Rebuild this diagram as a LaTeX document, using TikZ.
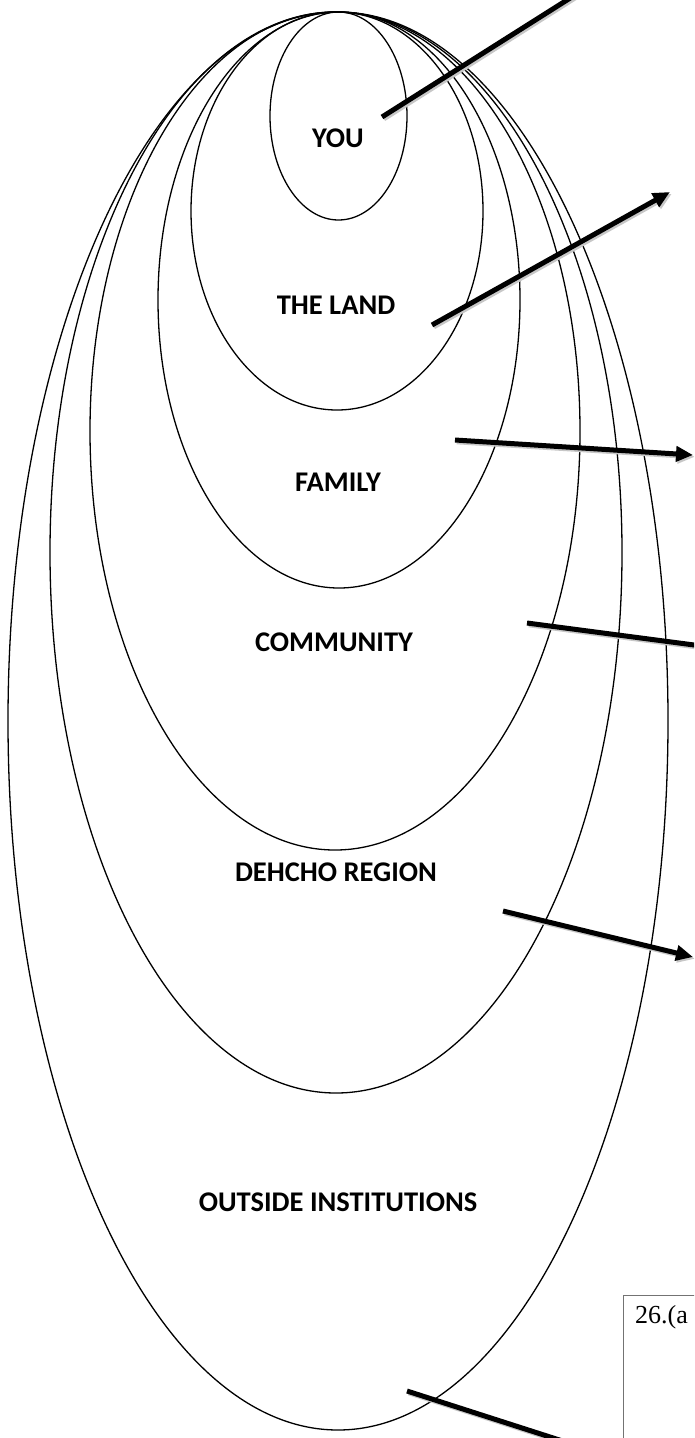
\documentclass[tikz,border=0pt]{standalone}
\usepackage{fontspec}
\setmainfont{Carlito}
\newfontfamily\boxserif{Liberation Serif}
\usetikzlibrary{shapes.geometric,arrows.meta}
\begin{document}
\begin{tikzpicture}[x=1pt,y=-1pt,
  ring/.style={draw=black, line width=1.3pt, ellipse, inner sep=0pt},
  lbl/.style={font=\bfseries\fontsize{28.5}{34}\selectfont, inner sep=0pt},
  ptr/.style={line width=5pt, draw=black},
  ptrhead/.style={ptr, -{Triangle[length=17pt,width=15pt]}},
  shadowed/.style={draw=black!22, transform canvas={xshift=1.8pt,yshift=-1.8pt}},
]
\useasboundingbox (0,0) rectangle (694,1438);
\clip (0,0) rectangle (694,1438);
\fill[white] (0,0) rectangle (694,1438);

% nested ellipses
\node[ring, minimum width=660pt, minimum height=1418pt] (e6) at (338,721) {};
\node[ring, minimum width=572pt, minimum height=1081pt] (e5) at (336,552.5) {};
\node[ring, minimum width=490pt, minimum height=838pt] (e4) at (335,431) {};
\node[ring, minimum width=362pt, minimum height=576pt] (e3) at (339,300) {};
\node[ring, minimum width=292pt, minimum height=398pt] (e2) at (337,211) {};
\node[ring, minimum width=137pt, minimum height=208pt] (e1) at (338.5,116) {};

% labels
\node[lbl] (lyou) at (338,138) {YOU};
\node[lbl] (lland) at (336,305) {THE LAND};
\node[lbl] (lfam) at (338,482) {FAMILY};
\node[lbl] (lcom) at (334,642) {COMMUNITY};
\node[lbl] (ldeh) at (336,872) {DEHCHO REGION};
\node[lbl] (lout) at (338,1202) {OUTSIDE INSTITUTIONS};

% arrow end points
\coordinate (a1s) at (382,117);   \coordinate (a1e) at (590,-14.5);
\coordinate (a2s) at (432,325);   \coordinate (a2e) at (670,192);
\coordinate (a3s) at (455,440);   \coordinate (a3e) at (693,455);
\coordinate (a4s) at (527,623);   \coordinate (a4e) at (720,648.4);
\coordinate (a5s) at (503,911);   \coordinate (a5e) at (693,957);
\coordinate (a6s) at (407,1391);  \coordinate (a6e) at (575,1445);

% shadows
\draw[ptr, shadowed] (a1s) -- (a1e);
\draw[ptr, shadowed, -{Triangle[length=17pt,width=15pt,fill=black!22]}] (a2s) -- (a2e);
\draw[ptr, shadowed, -{Triangle[length=17pt,width=15pt,fill=black!22]}] (a3s) -- (a3e);
\draw[ptr, shadowed] (a4s) -- (a4e);
\draw[ptr, shadowed, -{Triangle[length=17pt,width=15pt,fill=black!22]}] (a5s) -- (a5e);
\draw[ptr, shadowed] (a6s) -- (a6e);

% pointers
\draw[ptr] (a1s) -- (a1e);
\draw[ptrhead] (a2s) -- (a2e);
\draw[ptrhead] (a3s) -- (a3e);
\draw[ptr] (a4s) -- (a4e);
\draw[ptrhead] (a5s) -- (a5e);
\draw[ptr] (a6s) -- (a6e);

% question box
\node[draw=black!55, line width=1pt, fill=white, anchor=north west, minimum width=100pt, minimum height=170pt, inner sep=0pt] (qbox) at (623,1295) {};
\node[font=\boxserif\fontsize{26}{30}\selectfont, anchor=base west, inner sep=0pt] (qtext) at (635,1323) {26.(a};
\end{tikzpicture}
\end{document}
